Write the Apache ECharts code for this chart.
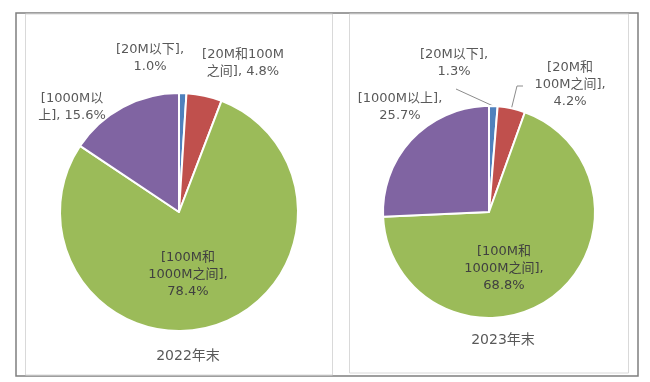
<!DOCTYPE html>
<html><head><meta charset="utf-8">
<script src="https://cdn.jsdelivr.net/npm/echarts@6/dist/echarts.min.js"></script>
<style>html,body{margin:0;padding:0;background:#fff}#c{width:650px;height:382px}</style>
</head><body><div id="c"></div>
<script>
// ---- data ----
const categories = ['20M以下', '20M和100M之间', '100M和1000M之间', '1000M以上'];
const values2022 = [1.0, 4.8, 78.4, 15.6];
const values2023 = [1.3, 4.2, 68.8, 25.7];
const chartTitles = ['2022年末', '2023年末'];
const colors = ['#4F81BD', '#C0504D', '#9BBB59', '#8064A2'];

// ---- label wrapping (where the reference breaks lines) ----
const wrap2022 = [null, 9, 6, 7];
const valueBreak2022 = [true, false, true, false];
const wrap2023 = [null, 5, 6, null];
const valueBreak2023 = [true, true, true, true];

const FONT = '"DejaVu Sans", "Noto Sans CJK SC", sans-serif';

function labelText(i, v, wraps, vbreaks) {
  let s = '[' + categories[i] + ']';
  if (wraps[i] != null) s = s.slice(0, wraps[i]) + '\n' + s.slice(wraps[i]);
  return s + ',' + (vbreaks[i] ? '\n' : ' ') + v.toFixed(1) + '%';
}

// guide-line end offsets relative to label centre (null = automatic / none)
function makeSeries(values, center, radius, wraps, vbreaks, pos, lines, guides) {
  return {
    type: 'pie',
    center: center,
    radius: radius,
    startAngle: 90,
    clockwise: true,
    avoidLabelOverlap: false,
    emphasis: { disabled: true },
    itemStyle: { borderColor: '#ffffff', borderWidth: 2 },
    label: {
      show: true,
      position: 'outside',
      color: '#595959',
      fontSize: 13,
      lineHeight: 17,
      fontFamily: FONT,
      align: 'center',
      formatter: p => labelText(p.dataIndex, p.value, wraps, vbreaks)
    },
    labelLine: { show: false },
    labelLayout: p => {
      const i = p.dataIndex;
      const out = { x: pos[i][0], y: pos[i][1], align: 'center', verticalAlign: 'middle' };
      if (guides[i] && p.labelLinePoints) {
        const start = p.labelLinePoints[0];
        out.labelLinePoints = [start].concat(guides[i].map(o => [pos[i][0] + o[0], pos[i][1] + o[1]]));
      }
      return out;
    },
    data: values.map((v, i) => ({
      name: categories[i],
      value: v,
      itemStyle: { color: colors[i] },
      label: i === 2 ? { position: 'inside', color: '#404040' } : {},
      labelLine: { show: lines[i], lineStyle: { color: '#8c8c8c', width: 1 } }
    }))
  };
}

const chart = echarts.init(document.getElementById('c'), null, { renderer: 'canvas' });
chart.setOption({
  backgroundColor: '#ffffff',
  animation: false,
  graphic: [
    { type: 'rect', shape: { x: 16, y: 13, width: 622, height: 363 }, style: { fill: 'none', stroke: '#7f7f7f', lineWidth: 1.5 } },
    { type: 'rect', shape: { x: 25.5, y: 14, width: 307, height: 361 }, style: { fill: 'none', stroke: '#d9d9d9', lineWidth: 1 } },
    { type: 'rect', shape: { x: 349.5, y: 14, width: 279, height: 359 }, style: { fill: 'none', stroke: '#d9d9d9', lineWidth: 1 } },
    { type: 'text', x: 188, y: 356, style: { text: chartTitles[0], fill: '#595959', font: '14px ' + FONT, align: 'center', verticalAlign: 'middle' } },
    { type: 'text', x: 503, y: 340, style: { text: chartTitles[1], fill: '#595959', font: '14px ' + FONT, align: 'center', verticalAlign: 'middle' } }
  ],
  series: [
    makeSeries(values2022, [179, 212], 119, wrap2022, valueBreak2022,
      [[150, 58], [243, 63], [188, 275], [72, 107]], [false, false, false, false],
      [null, null, null, null]),
    makeSeries(values2023, [489, 212], 106, wrap2023, valueBreak2023,
      [[454, 63], [570, 85], [504, 269], [400, 107]], [true, true, false, false],
      [[[2, 26]], [[-53, 1], [-47, 1]], null, null])
  ]
});
</script>
</body></html>
